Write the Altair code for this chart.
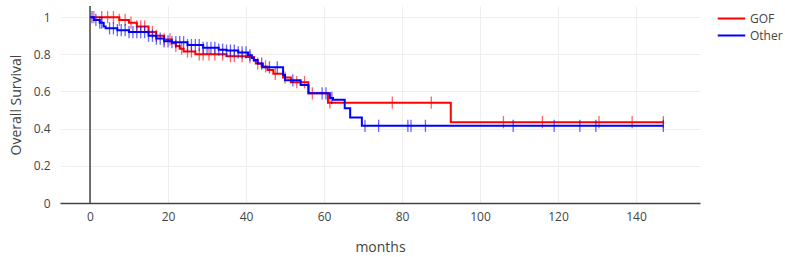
import altair as alt
import pandas as pd
import numpy as np

# Kaplan-Meier step curves (months, survival)
gof_t = [0, 7.5, 10, 12, 15, 17, 19, 21, 22, 23, 24, 27, 35, 40, 42, 42.5, 44, 45.5, 47, 49.5, 51.5, 56, 61, 92.5, 147]
gof_s = [1.0, 0.985, 0.97, 0.95, 0.92, 0.90, 0.88, 0.86, 0.845, 0.83, 0.815, 0.80, 0.79, 0.785, 0.765, 0.75, 0.735, 0.715, 0.695, 0.675, 0.65, 0.59, 0.54, 0.435, 0.435]
oth_t = [0, 1, 2.5, 3.5, 4, 7, 10, 15, 17, 19, 21, 25, 29, 33, 35, 38, 40.5, 41.5, 42, 43, 44.3, 49.5, 50, 54, 56, 61.5, 62.3, 65.3, 66.7, 69.7, 147]
oth_s = [1.0, 0.985, 0.97, 0.95, 0.94, 0.93, 0.92, 0.90, 0.885, 0.87, 0.865, 0.85, 0.835, 0.825, 0.82, 0.81, 0.795, 0.78, 0.77, 0.75, 0.73, 0.69, 0.66, 0.635, 0.59, 0.565, 0.555, 0.51, 0.46, 0.415, 0.415]

# censored times
gof_cens = [1, 3, 4.5, 6, 7.5, 9, 10.5, 12, 13, 14, 16, 17, 19, 20.5, 22, 23.5, 25, 26, 28, 29, 30.5, 32, 34, 36, 37, 39, 41, 43, 45, 47.5, 50, 53, 55, 57, 61.5, 77.5, 87.5, 106, 116, 130.5, 139, 147]
oth_cens = [0.5, 1.5, 2.5, 3, 5, 6, 7, 8, 9, 10, 11, 12, 13, 14, 15, 16, 17, 18, 19, 20, 21, 22, 23, 24, 25, 26, 27, 28, 29, 30, 31, 32, 33, 34, 35, 36, 37, 38, 39, 40, 41, 44, 46, 48, 52, 59.5, 60.5, 62, 70.5, 74, 81.5, 82.3, 86, 108.5, 119, 125.6, 129.7, 147]

groups = ["GOF", "Other"]
colors = ["#ff0000", "#0000ff"]

curves = pd.concat([
    pd.DataFrame({"group": "GOF", "t": gof_t, "s": gof_s}),
    pd.DataFrame({"group": "Other", "t": oth_t, "s": oth_s}),
])

def cens_df(name, ts, ss, cs):
    ts = np.array(ts); ss = np.array(ss)
    idx = np.searchsorted(ts, np.array(cs), side="right") - 1
    return pd.DataFrame({"group": name, "t": cs, "s": ss[idx]})

cens = pd.concat([cens_df("GOF", gof_t, gof_s, gof_cens),
                  cens_df("Other", oth_t, oth_s, oth_cens)])

W, H = 640, 197
xs = alt.Scale(domain=[-7.7, 156.4], nice=False, zero=False)
ys = alt.Scale(domain=[0, 1.06], nice=False)
col = alt.Scale(domain=groups, range=colors)

xaxis = alt.Axis(values=[0, 20, 40, 60, 80, 100, 120, 140], title="months",
                 grid=True, gridColor="#eeeeee", domainColor="#444444", domainWidth=1.5,
                 ticks=False, labelPadding=8, titlePadding=18,
                 labelColor="#444444", titleColor="#444444", labelFontSize=12,
                 titleFontSize=14, titleFontWeight="normal")
yaxis = alt.Axis(values=[0, 0.2, 0.4, 0.6, 0.8, 1], format="~g", title="Overall Survival",
                 grid=True, gridColor="#eeeeee", domain=False, ticks=False,
                 labelPadding=10, titlePadding=10,
                 labelColor="#444444", titleColor="#444444", labelFontSize=12,
                 titleFontSize=14, titleFontWeight="normal")

base_x = alt.X("t:Q", scale=xs, axis=xaxis)
base_y = alt.Y("s:Q", scale=ys, axis=yaxis)

zero = alt.Chart(pd.DataFrame({"t": [0]})).mark_rule(color="#444444", strokeWidth=1.5).encode(
    x=alt.X("t:Q", scale=xs), y=alt.value(0), y2=alt.value(H))

layers = [zero]
for g in groups:
    cd = curves[curves.group == g]
    sd = cens[cens.group == g]
    line = alt.Chart(cd).mark_line(interpolate="step-after", strokeWidth=2).encode(
        x=base_x, y=base_y,
        color=alt.Color("group:N", scale=col, title=None,
                        legend=alt.Legend(orient="none", legendX=661, legendY=2,
                                          symbolType="M-1.45,0L1.45,0", symbolStrokeWidth=2,
                                          symbolSize=361, labelFontSize=12,
                                          labelColor="#444444", rowPadding=0,
                                          labelOffset=8,
                                          labelFont="Open Sans")))
    tick = alt.Chart(sd).mark_point(shape="M0,-1L0,1", size=150, strokeWidth=1.3,
                                    opacity=0.6, filled=False).encode(
        x=base_x, y=base_y,
        color=alt.Color("group:N", scale=col, legend=None))
    layers += [line, tick]

chart = alt.layer(*layers).properties(
    width=W, height=H, autosize="none",
    padding={"left": 60, "top": 6, "right": 85, "bottom": 54},
).configure(font="Open Sans").configure_view(stroke=None)

chart.save("out.html", embed_options={"renderer": "svg", "actions": False})
